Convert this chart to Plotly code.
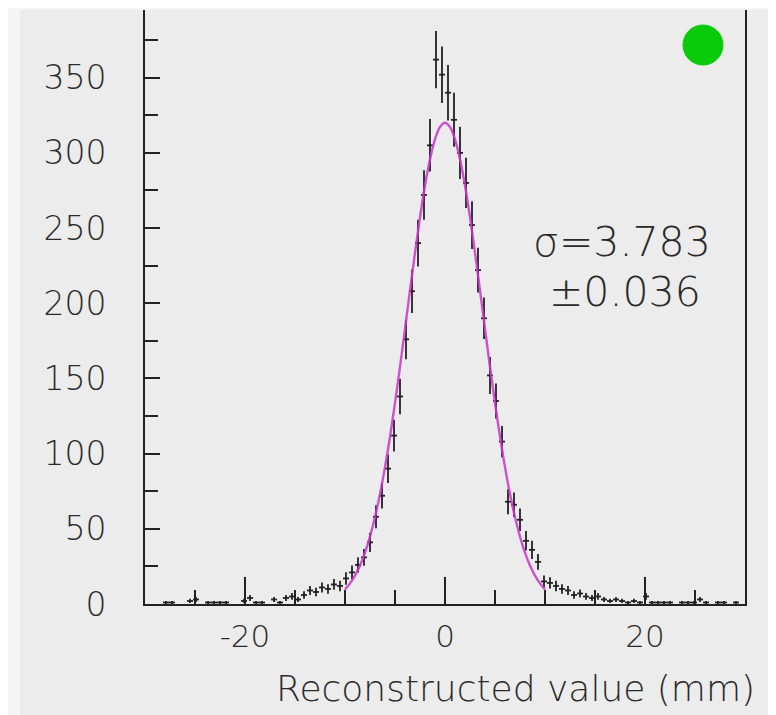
import numpy as np
import plotly.graph_objects as go

# histogram: 100 bins from -30 to 30 mm
x_lo, x_hi, n_bins = -30.0, 30.0, 100
counts = [
    0, 0, 0, 1, 1, 0, 0, 2, 3, 0,
    1, 1, 1, 1, 0, 0, 2, 4, 1, 1,
    0, 3, 1, 4, 5, 3, 6, 9, 8, 11,
    10, 13, 12, 17, 21, 26, 31, 41, 58, 72,
    90, 112, 138, 176, 208, 240, 272, 305, 362, 352,
    340, 322, 300, 280, 252, 222, 190, 152, 135, 108,
    68, 66, 56, 42, 36, 28, 15, 14, 12, 10,
    9, 6, 7, 5, 4, 5, 3, 2, 3, 2,
    1, 2, 1, 5, 1, 1, 1, 1, 0, 1,
    1, 1, 3, 1, 0, 1, 1, 0, 1, 0,
]

# fitted gaussian, sampled every 0.5 mm over [-10, 10]
fit_x = [-10.0, -9.5, -9.0, -8.5, -8.0, -7.5, -7.0, -6.5, -6.0, -5.5, -5.0,
         -4.5, -4.0, -3.5, -3.0, -2.5, -2.0, -1.5, -1.0, -0.5, 0.0,
         0.5, 1.0, 1.5, 2.0, 2.5, 3.0, 3.5, 4.0, 4.5, 5.0,
         5.5, 6.0, 6.5, 7.0, 7.5, 8.0, 8.5, 9.0, 9.5, 10.0]
fit_y = [9.7, 13.7, 18.9, 25.6, 34.2, 44.8, 57.8, 73.1, 91.0, 111.2, 133.6,
         157.7, 183.0, 208.6, 233.6, 257.2, 278.3, 295.8, 309.0, 317.2, 320.0,
         317.2, 309.0, 295.8, 278.3, 257.2, 233.6, 208.6, 183.0, 157.7, 133.6,
         111.2, 91.0, 73.1, 57.8, 44.8, 34.2, 25.6, 18.9, 13.7, 9.7]

sigma_text = "σ=3.783"
sigma_err_text = "±0.036"
x_title = "Reconstructed value (mm)"

y_ticks = [0, 50, 100, 150, 200, 250, 300, 350]
x_ticks = [-20, 0, 20]
x_ticktext = ["-20", "0", "20"]

# the page body adds an 8px margin, so the figure sits at (8, 8)
OFF = 8
W, H = 776 - OFF, 715 - OFF
PL, PR, PT, PB = 145, 745, 10, 604          # plot box in picture pixels
L, T = PL - OFF, PT - OFF
R, B = W - (PR - OFF), H - (PB - OFF)


def px_x(p):
    return (p - PL) / (PR - PL)


def px_y(p):
    return (PB - p) / (PB - PT)


bw = (x_hi - x_lo) / n_bins
centers = x_lo + bw * (np.arange(n_bins) + 0.5)
counts = np.array(counts, dtype=float)
keep = counts > 0

font = "DejaVu Sans, Liberation Sans, sans-serif"
ink = "#222222"
txt = "#2a2a2a"

fig = go.Figure()

fig.add_trace(go.Scatter(
    x=centers[keep], y=counts[keep], mode="markers",
    marker=dict(size=1, color=ink),
    error_y=dict(type="data", array=np.sqrt(counts[keep]), color=ink,
                 thickness=1.8, width=0),
    error_x=dict(type="constant", value=bw / 2, color=ink,
                 thickness=1.8, width=0),
    showlegend=False, hoverinfo="skip",
))

fig.add_trace(go.Scatter(
    x=fit_x, y=fit_y, mode="lines", line_shape="spline",
    line=dict(color="#c935c9", width=2.4), opacity=0.85,
    showlegend=False, hoverinfo="skip",
))

shapes = [
    # lighter strip down the left edge of the picture
    dict(type="rect", xref="paper", yref="paper",
         x0=px_x(OFF), x1=px_x(20), y0=px_y(715), y1=px_y(OFF),
         fillcolor="#f5f5f5", line_width=0, layer="below"),
    dict(type="rect", xref="paper", yref="paper",
         x0=px_x(OFF), x1=px_x(776), y0=px_y(10), y1=px_y(OFF),
         fillcolor="#f5f5f5", line_width=0, layer="below"),
    # green status dot
    dict(type="circle", xref="paper", yref="paper",
         x0=px_x(683), x1=px_x(723), y0=px_y(65), y1=px_y(25),
         fillcolor="#0acb0a", line=dict(color="#0acb0a", width=1)),
]

annotations = [
    dict(text=sigma_text, xref="paper", yref="paper", x=px_x(713), y=px_y(242),
         xanchor="right", yanchor="middle", showarrow=False,
         font=dict(family=font, size=41, color=txt, weight=200)),
    dict(text=sigma_err_text, xref="paper", yref="paper", x=px_x(703), y=px_y(292),
         xanchor="right", yanchor="middle", showarrow=False,
         font=dict(family=font, size=41, color=txt, weight=200)),
    dict(text=x_title, xref="paper", yref="paper", x=px_x(757), y=px_y(688),
         xanchor="right", yanchor="middle", showarrow=False,
         font=dict(family=font, size=36, color=txt, weight=200)),
]

fig.update_layout(
    width=W, height=H,
    margin=dict(l=L, r=R, t=T, b=B, pad=0),
    paper_bgcolor="#ececec", plot_bgcolor="#ececec",
    shapes=shapes, annotations=annotations,
    font=dict(family=font, color=txt),
)

fig.update_xaxes(
    range=[x_lo, x_hi], showgrid=False, zeroline=False,
    showline=True, linecolor=ink, linewidth=2, mirror=False,
    ticks="inside", tickvals=x_ticks, ticktext=x_ticktext,
    ticklen=27, tickwidth=2, tickcolor=ink,
    minor=dict(dtick=5, ticks="inside", ticklen=14, tickwidth=2, tickcolor=ink),
    tickfont=dict(size=31, color=txt, weight=200), ticklabelstandoff=4,
)

fig.update_yaxes(
    range=[0, 395], showgrid=False, zeroline=False,
    showline=True, linecolor=ink, linewidth=2, mirror=True,
    ticks="inside", tickvals=y_ticks, ticklen=15, tickwidth=2, tickcolor=ink,
    minor=dict(dtick=25, ticks="inside", ticklen=13, tickwidth=2, tickcolor=ink),
    tickfont=dict(size=33, color=txt, weight=200), ticklabelstandoff=30,
)

fig.write_html("out.html")
